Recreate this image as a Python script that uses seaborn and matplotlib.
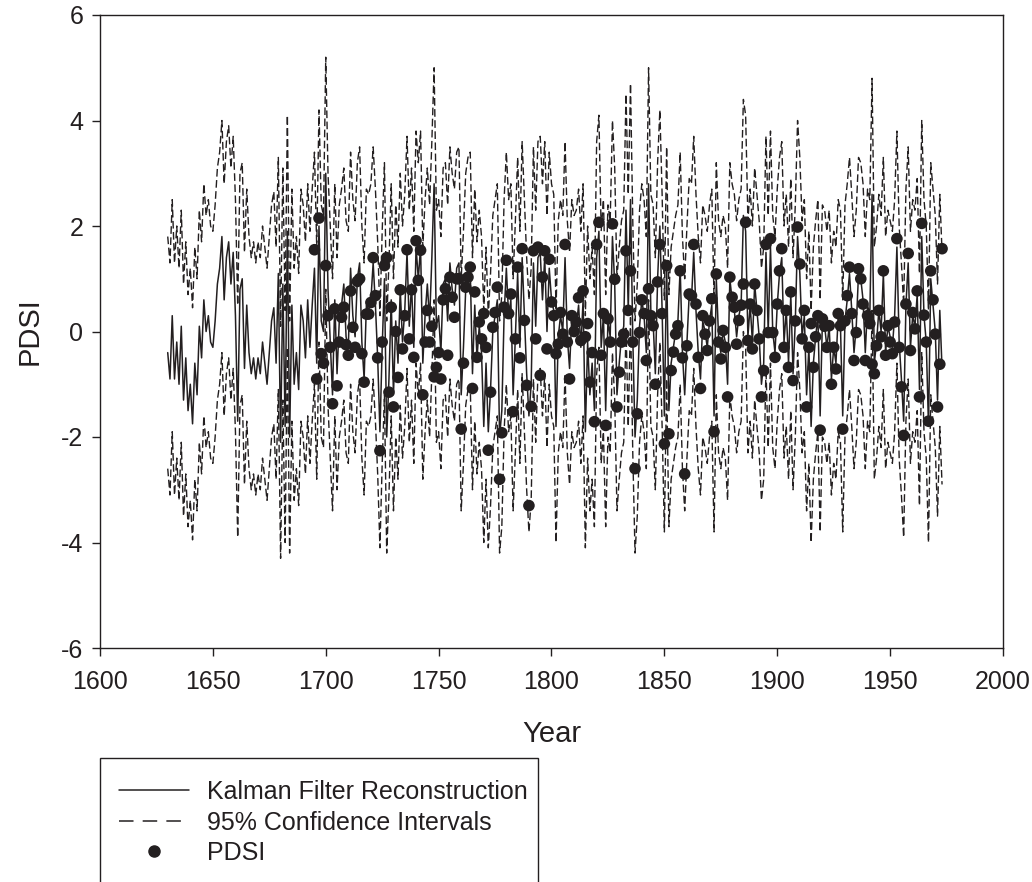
import numpy as np
import pandas as pd
import matplotlib
matplotlib.use("Agg")
import matplotlib.pyplot as plt
import seaborn as sns
from matplotlib.lines import Line2D
from matplotlib.patches import Rectangle

# Kalman filter reconstruction, one value per year from 1630
recon_start = 1630
recon = [
    -0.4, -0.9, 0.3, -0.9, -0.2, -1.0, 0.1, -1.3, -0.5, -1.5,    # 1630
    -1.0, -1.75, -0.6, -1.2, 0.1, -0.5, 0.6, 0.0, 0.3, -0.2,     # 1640
    -0.3, 0.2, 0.9, 1.2, 1.8, 0.6, 1.4, 1.7, 0.9, 1.5,           # 1650
    0.3, -1.7, 0.8, 1.0, -0.7, 0.5, -0.4, -0.8, -0.5, -0.9,      # 1660
    -0.5, -0.8, -0.2, -0.6, -1.0, -0.4, 0.2, 0.45, -0.6, 1.1,    # 1670
    -2.1, 0.9, -1.8, 1.9, -2.0, 0.5, -1.0, -0.4, -1.1, 0.5,      # 1680
    0.2, -0.5, 0.6, -0.3, 0.5, 1.2, -0.6, 2.0, 0.2, 0.0,         # 1690
    3.0, 0.8, -0.2, -1.2, 0.6, -0.8, 0.2, 0.5, 0.9, -0.1,        # 1700
    -0.3, 1.2, 0.3, -0.1, 1.0, 1.3, -0.2, -0.9, 0.5, 0.4,        # 1710
    0.6, 1.3, 0.5, -0.5, -1.9, -0.3, 1.0, -2.0, -0.9, 0.6,       # 1720
    -1.2, 0.2, -0.6, 0.8, -0.2, 0.4, 1.5, 0.1, 0.9, -0.3,        # 1730
    1.6, 1.0, 1.6, -0.6, 0.3, 0.9, 0.2, 1.4, 2.8, 0.1,           # 1740
    0.3, -0.4, 0.9, 1.0, 0.2, 1.3, 0.8, 0.5, 1.2, 1.3,           # 1750
    -1.2, -0.3, 0.8, 1.1, 1.2, -0.8, 0.5, -0.5, 0.1, -0.4,       # 1760
    -1.8, -0.6, -1.9, -1.1, 0.0, 0.3, 0.6, -2.0, -1.5, 0.3,      # 1770
    1.2, 0.3, 0.6, -1.2, -0.1, 1.1, -0.3, 1.4, 0.3, -0.8,        # 1780
    -1.6, -1.0, 1.3, 0.1, 1.4, 1.5, 0.6, 1.4, 0.0, 1.2,          # 1790
    0.6, 0.4, -1.8, -0.1, 0.3, 0.0, 1.4, -0.1, -0.7, 0.3,        # 1800
    0.0, 0.1, 0.5, -0.3, 0.6, -1.9, -0.2, -1.2, -0.6, -1.5,      # 1810
    1.4, 1.9, -0.3, 0.3, -1.5, 0.2, -0.1, 1.8, 0.9, -1.2,        # 1820
    -0.6, -0.1, 0.1, 2.3, 0.4, 2.5, -0.1, -2.0, -1.3, 0.1,       # 1830
    0.6, 0.3, -0.4, 2.8, 0.4, 0.2, -0.8, 1.0, 2.0, 0.4,          # 1840
    -1.6, 1.3, -1.5, -0.6, -0.3, 0.0, 0.2, 1.2, -0.4, -1.2,      # 1850
    -0.2, 0.7, 0.6, 1.5, 0.4, -0.4, -0.9, 0.2, 0.0, -0.3,        # 1860
    0.2, 0.5, -1.6, 1.0, -0.1, -0.4, 0.0, -0.2, -1.0, 1.0,       # 1870
    0.6, 0.4, -0.1, 0.3, 0.5, 2.2, 1.9, -0.1, 0.5, -0.2,         # 1880
    0.9, 0.4, -0.1, -1.0, -0.6, 1.5, 0.0, 1.6, 0.0, -0.4,        # 1890
    0.5, 1.1, 1.4, -0.2, 0.4, -0.6, 0.7, -0.8, 0.2, 1.8,         # 1900
    1.1, -0.1, 0.3, -1.2, -0.3, -1.8, -0.6, -0.1, 0.3, -1.6,     # 1910
    0.2, 0.1, -0.3, 0.1, -0.9, -0.3, -0.6, 0.3, 0.1, -1.6,       # 1920
    0.2, 0.6, 1.1, 0.4, -0.4, 0.1, 1.1, 1.0, 0.6, -0.4,          # 1930
    0.5, 0.3, 2.6, -0.6, -0.2, 0.4, 0.0, 1.1, -0.4, 0.1,         # 1940
    -0.1, -0.3, 0.3, 1.6, -0.2, -0.9, -1.7, 0.5, 1.3, -0.3,      # 1950
    0.3, 0.1, 0.7, -1.1, 1.8, 0.3, -0.2, -1.8, 1.0, 0.5,         # 1960
    0.0, -1.3, 0.4, -0.7,                                        # 1970
]

# half width of the 95% interval around the reconstruction
ci_half = 2.2

# observed PDSI, one value per year from 1695
pdsi_start = 1695
pdsi = [
    1.55, -0.9, 2.15, -0.42, -0.6,                               # 1695
    1.25, 0.3, -0.3, -1.37, 0.43, -1.03, -0.2, 0.27, 0.46, -0.25,  # 1700
    -0.45, 0.77, 0.08, -0.3, 0.95, 1.0, -0.42, -0.96, 0.33, 0.33,  # 1710
    0.55, 1.4, 0.68, -0.5, -2.26, -0.2, 1.25, 1.4, -1.15, 0.46,    # 1720
    -1.43, 0.0, -0.87, 0.79, -0.33, 0.3, 1.55, -0.14, 0.79, -0.49, # 1730
    1.72, 0.97, 1.54, -1.2, -0.2, 0.4, -0.2, 0.1, -0.86, -0.68,    # 1740
    -0.4, -0.9, 0.6, 0.81, -0.45, 1.03, 0.65, 0.27, 1.0, 1.0,      # 1750
    -1.85, -0.6, 0.84, 1.03, 1.22, -1.08, 0.75, -0.49, 0.18, -0.14,  # 1760
    0.34, -0.3, -2.25, -1.15, 0.08, 0.36, 0.84, -2.8, -1.92, 0.46,   # 1770
    1.35, 0.34, 0.71, -1.52, -0.14, 1.22, -0.5, 1.57, 0.21, -1.02,   # 1780
    -3.3, -1.42, 1.53, -0.14, 1.6, -0.83, 1.03, 1.53, -0.33, 1.37,   # 1790
    0.56, 0.3, -0.42, -0.24, 0.36, -0.05, 1.65, -0.2, -0.9, 0.3,     # 1800
    0.0, 0.18, 0.64, -0.17, 0.77, -0.1, 0.15, -0.96, -0.4, -1.71,    # 1810
    1.65, 2.07, -0.45, 0.34, -1.78, 0.24, -0.2, 2.04, 0.99, -1.43,   # 1820
    -0.77, -0.2, -0.05, 1.53, 0.4, 1.15, -0.2, -2.6, -1.56, -0.02,   # 1830
    0.6, 0.34, -0.55, 0.81, 0.3, 0.11, -1.0, 0.94, 1.65, 0.34,       # 1840
    -2.13, 1.25, -1.94, -0.74, -0.39, -0.05, 0.11, 1.15, -0.5, -2.7, # 1850
    -0.27, 0.71, 0.68, 1.65, 0.52, -0.49, -1.08, 0.3, -0.05, -0.36,  # 1860
    0.2, 0.62, -1.9, 1.09, -0.2, -0.52, 0.02, -0.3, -1.24, 1.03,     # 1870
    0.65, 0.46, -0.24, 0.21, 0.5, 0.9, 2.07, -0.17, 0.52, -0.33,     # 1880
    0.9, 0.4, -0.14, -1.24, -0.74, 1.65, -0.02, 1.76, -0.02, -0.49,  # 1890
    0.52, 1.15, 1.57, -0.3, 0.4, -0.68, 0.75, -0.93, 0.2, 1.98,      # 1900
    1.28, -0.14, 0.4, -1.43, -0.3, 0.15, -0.68, -0.1, 0.3, -1.87,    # 1910
    0.24, 0.1, -0.3, 0.11, -1.0, -0.3, -0.71, 0.34, 0.11, -1.85,     # 1920
    0.2, 0.68, 1.22, 0.34, -0.55, -0.02, 1.19, 1.0, 0.52, -0.55,     # 1930
    0.3, 0.15, -0.62, -0.8, -0.27, 0.4, -0.1, 1.15, -0.45, 0.11,     # 1940
    -0.2, -0.42, 0.18, 1.76, -0.3, -1.05, -1.97, 0.52, 1.48, -0.36,  # 1950
    0.36, 0.05, 0.77, -1.24, 2.05, 0.31, -0.2, -1.7, 1.15, 0.6,      # 1960
    -0.05, -1.43, -0.62, 1.57,                                       # 1970
]

recon_df = pd.DataFrame({"Year": np.arange(recon_start, recon_start + len(recon)),
                         "Recon": recon})
recon_df["Upper"] = recon_df["Recon"] + ci_half
recon_df["Lower"] = recon_df["Recon"] - ci_half
pdsi_df = pd.DataFrame({"Year": np.arange(pdsi_start, pdsi_start + len(pdsi)),
                        "PDSI": pdsi})

sns.set_style("ticks")
plt.rcParams["font.family"] = ["Liberation Sans", "DejaVu Sans"]
plt.rcParams["axes.unicode_minus"] = False
ink = "#231f20"

fig = plt.figure(figsize=(10.32, 8.82), dpi=100)
ax = fig.add_axes([100 / 1032, 1 - 648 / 882, 903 / 1032, 633 / 882])

dash = (0, (5.5, 2.5))
sns.lineplot(data=recon_df, x="Year", y="Upper", ax=ax, color=ink, lw=1.0, linestyle=dash)
sns.lineplot(data=recon_df, x="Year", y="Lower", ax=ax, color=ink, lw=1.0, linestyle=dash)
sns.lineplot(data=recon_df, x="Year", y="Recon", ax=ax, color=ink, lw=1.1)
sns.scatterplot(data=pdsi_df, x="Year", y="PDSI", ax=ax, color=ink, s=70,
                edgecolor="none", zorder=3)

ax.set_xlim(1600, 2000)
ax.set_ylim(-6, 6)
ax.set_xticks(range(1600, 2001, 50))
ax.set_yticks(range(-6, 7, 2))
for side in ["top", "right", "left", "bottom"]:
    ax.spines[side].set_visible(True)
    ax.spines[side].set_color(ink)
    ax.spines[side].set_linewidth(1.0)
ax.tick_params(direction="out", length=6, width=1, colors=ink, labelsize=18)
ax.tick_params(axis="x", pad=10)
ax.tick_params(axis="y", pad=6)
ax.set_xlabel("Year", fontsize=21, color=ink)
ax.set_ylabel("PDSI", fontsize=21, color=ink)
ax.xaxis.set_label_coords(0.5, -(720 - 648) / 633)
ax.yaxis.set_label_coords(-(100 - 44) / 903, 0.5)

# legend below the axes, frame runs off the bottom of the figure
handles = [
    Line2D([], [], color=ink, lw=1.1),
    Line2D([], [], color=ink, lw=1.1, linestyle=(0, (9.5, 6))),
    Line2D([], [], color=ink, marker="o", markersize=8, linestyle="none"),
]
labels = ["Kalman Filter Reconstruction", "95% Confidence Intervals", "PDSI"]
fig.legend(handles, labels, loc="upper left", bbox_to_anchor=(119 / 1032, 1 - 780 / 882),
           frameon=False, fontsize=18, handlelength=2.8, handletextpad=0.72,
           labelspacing=0.26, borderaxespad=0, borderpad=0, labelcolor=ink)
fig.patches.append(Rectangle((100 / 1032, -0.05), 438 / 1032, 0.05 + 1 - 758 / 882,
                             transform=fig.transFigure, fill=False, ec=ink, lw=1.0))

fig.savefig("out.png", dpi=100)
